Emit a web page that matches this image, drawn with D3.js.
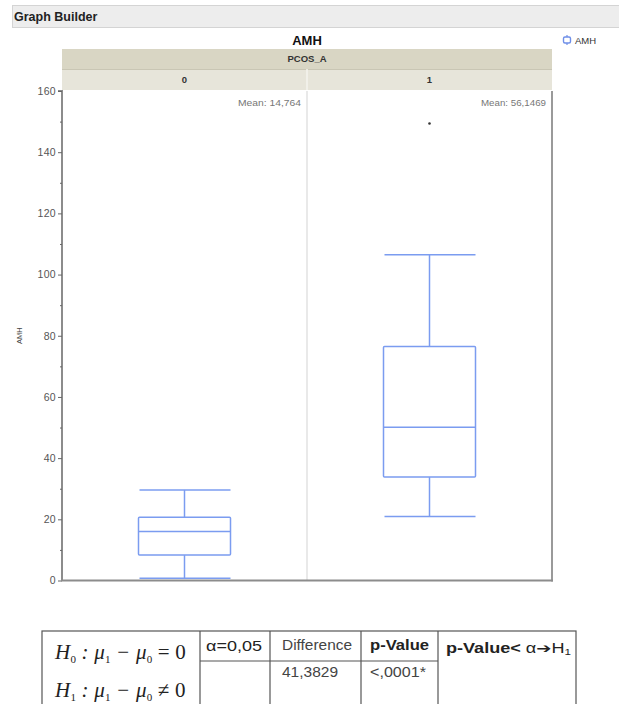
<!DOCTYPE html>
<html><head><meta charset="utf-8">
<script src="https://cdn.jsdelivr.net/npm/d3@7"></script>
<style>body{margin:0;background:#fff;}svg{display:block;font-family:Arial,"Liberation Sans",sans-serif;}</style>
</head><body><div id="chart"></div>
<script>
const groups = ["0", "1"];
const whiskerLow = [0.7, 20.9];
const q1 = [8.3, 33.8];
const median = [16.0, 50.1];
const q3 = [20.7, 76.5];
const whiskerHigh = [29.6, 106.5];
const means = ["14,764", "56,1469"];
const outlierGroups = ["1"];
const outlierValues = [149.4];
const yTicks = [0, 20, 40, 60, 80, 100, 120, 140, 160];
const yMinorTicks = [10, 30, 50, 70, 90, 110, 130, 150];

const W = 619, H = 704;
const svg = d3.select("#chart").append("svg").attr("width", W).attr("height", H);

// Graph Builder header
svg.append("rect").attr("x", 12.5).attr("y", 5.5).attr("width", 620).attr("height", 22)
  .attr("fill", "#ededed").attr("stroke", "#d4d4d4");
svg.append("text").attr("x", 14).attr("y", 21).attr("font-size", 12.5).attr("font-weight", "bold")
  .attr("fill", "#222").text("Graph Builder");

const plot = {left: 62, right: 552, top: 91, bottom: 580.5};
const x = d3.scaleBand().domain(groups).range([plot.left, plot.right]).padding(0);
const y = d3.scaleLinear().domain([0, 160]).range([plot.bottom, plot.top]);

// Title
svg.append("text").attr("x", (plot.left + plot.right) / 2).attr("y", 45).attr("text-anchor", "middle")
  .attr("font-size", 13).attr("font-weight", "bold").attr("fill", "#111").text("AMH");

// Legend
const lg = svg.append("g").attr("transform", "translate(567,40)");
lg.append("line").attr("x1", 0).attr("x2", 0).attr("y1", -5).attr("y2", 5).attr("stroke", "#6f8fe8").attr("stroke-width", 1.2);
lg.append("rect").attr("x", -3.5).attr("y", -3).attr("width", 7).attr("height", 6).attr("rx", 1.5).attr("fill", "#fff").attr("stroke", "#6f8fe8").attr("stroke-width", 1.4);
lg.append("text").attr("x", 8).attr("y", 4).attr("font-size", 9.5).attr("fill", "#333").text("AMH");

// Header bands
svg.append("rect").attr("x", plot.left).attr("y", 49).attr("width", plot.right - plot.left).attr("height", 20)
  .attr("fill", "#d9d6c4");
svg.append("text").attr("x", (plot.left + plot.right) / 2).attr("y", 62).attr("text-anchor", "middle")
  .attr("font-size", 9.5).attr("font-weight", "bold").attr("fill", "#333").text("PCOS_A");
svg.append("rect").attr("x", plot.left).attr("y", 69).attr("width", plot.right - plot.left).attr("height", 21)
  .attr("fill", "#e7e5da");
svg.append("line").attr("x1", plot.left).attr("x2", plot.right).attr("y1", 69.5).attr("y2", 69.5).attr("stroke", "#c9c6b4");
groups.forEach(g => {
  svg.append("text").attr("x", x(g) + x.bandwidth() / 2).attr("y", 83).attr("text-anchor", "middle")
    .attr("font-size", 9.5).attr("font-weight", "bold").attr("fill", "#333").text(g);
});
svg.append("line").attr("x1", x("1")).attr("x2", x("1")).attr("y1", 69).attr("y2", 90).attr("stroke", "#f4f3ee").attr("stroke-width", 1.5);

// Panel divider
svg.append("line").attr("x1", x("1")).attr("x2", x("1")).attr("y1", plot.top).attr("y2", plot.bottom)
  .attr("stroke", "#e2e2e2").attr("stroke-width", 1.5);

// Right border
svg.append("line").attr("x1", plot.right).attr("x2", plot.right).attr("y1", plot.top).attr("y2", plot.bottom + 1)
  .attr("stroke", "#9a9a9a").attr("stroke-width", 2);

// Y axis
const yAxis = svg.append("g").attr("transform", `translate(${plot.left},0)`)
  .call(d3.axisLeft(y).tickValues(yTicks).tickSize(4).tickPadding(2).tickFormat(d3.format("d")));
yAxis.select(".domain").attr("stroke", "#8c8c8c").attr("stroke-width", 2).attr("d", `M-4,${plot.top}H0V${plot.bottom}`);
yAxis.selectAll(".tick line").attr("stroke", "#666");
yAxis.selectAll(".tick text").attr("font-size", 10.5).attr("fill", "#555").attr("font-family", "Arial, 'Liberation Sans', sans-serif")
  .attr("letter-spacing", 0.3);
const yMinor = svg.append("g").attr("transform", `translate(${plot.left},0)`)
  .call(d3.axisLeft(y).tickValues(yMinorTicks).tickSize(2).tickFormat(""));
yMinor.select(".domain").remove();
yMinor.selectAll(".tick line").attr("stroke", "#666");

// X axis line
svg.append("line").attr("x1", plot.left - 1).attr("x2", plot.right + 1).attr("y1", plot.bottom).attr("y2", plot.bottom)
  .attr("stroke", "#8c8c8c").attr("stroke-width", 2);

// Y label
svg.append("text").attr("transform", `translate(22,${(plot.top + plot.bottom) / 2}) rotate(-90)`)
  .attr("text-anchor", "middle").attr("font-size", 7.5).attr("fill", "#444").text("AMH");

// Mean labels
const meanWidths = [63, 65];
groups.forEach((g, i) => {
  svg.append("text").attr("x", x(g) + x.bandwidth() - 6 - meanWidths[i]).attr("y", 106)
    .attr("font-size", 9).attr("fill", "#777")
    .attr("textLength", meanWidths[i]).attr("lengthAdjust", "spacingAndGlyphs")
    .text("Mean: " + means[i]);
});

// Boxes
const boxColor = "#7b9cf0";
const boxHalf = 46;
groups.forEach((g, i) => {
  const cx = x(g) + x.bandwidth() / 2;
  const gg = svg.append("g").attr("stroke", boxColor).attr("stroke-width", 1.5).attr("fill", "none");
  gg.append("line").attr("x1", cx).attr("x2", cx).attr("y1", y(whiskerHigh[i])).attr("y2", y(q3[i]));
  gg.append("line").attr("x1", cx).attr("x2", cx).attr("y1", y(q1[i])).attr("y2", y(whiskerLow[i]));
  gg.append("line").attr("x1", cx - boxHalf + 1).attr("x2", cx + boxHalf).attr("y1", y(whiskerHigh[i])).attr("y2", y(whiskerHigh[i]));
  gg.append("line").attr("x1", cx - boxHalf + 1).attr("x2", cx + boxHalf).attr("y1", y(whiskerLow[i])).attr("y2", y(whiskerLow[i]));
  gg.append("rect").attr("x", cx - boxHalf).attr("y", y(q3[i])).attr("width", boxHalf * 2)
    .attr("height", y(q1[i]) - y(q3[i])).attr("rx", 1);
  gg.append("line").attr("x1", cx - boxHalf).attr("x2", cx + boxHalf).attr("y1", y(median[i])).attr("y2", y(median[i]));
});
outlierGroups.forEach((g, i) => {
  svg.append("circle").attr("cx", x(g) + x.bandwidth() / 2).attr("cy", y(outlierValues[i])).attr("r", 1.3).attr("fill", "#333");
});

// Table
const tb = svg.append("g").attr("stroke", "#555").attr("stroke-width", 1.2).attr("fill", "none");
tb.append("rect").attr("x", 42).attr("y", 631).attr("width", 534).attr("height", 80);
[200, 270, 361, 438].forEach(xx => tb.append("line").attr("x1", xx).attr("x2", xx).attr("y1", 631).attr("y2", 711));
tb.append("line").attr("x1", 200).attr("x2", 438).attr("y1", 661).attr("y2", 661);

const t = svg.append("g").attr("fill", "#222");
function hyp(yy, sub, op) {
  const tx = t.append("text").attr("x", 55).attr("y", yy).attr("font-family", "'Liberation Serif','DejaVu Serif',serif")
    .attr("font-size", 21).attr("font-style", "italic").attr("letter-spacing", 0.2);
  tx.append("tspan").text("H");
  tx.append("tspan").attr("font-size", 11).attr("dy", 4).attr("font-style", "normal").text(sub);
  tx.append("tspan").attr("dy", -4).text(" : μ");
  tx.append("tspan").attr("font-size", 11).attr("dy", 4).attr("font-style", "normal").text("1");
  tx.append("tspan").attr("dy", -4).text(" − μ");
  tx.append("tspan").attr("font-size", 11).attr("dy", 4).attr("font-style", "normal").text("0");
  tx.append("tspan").attr("dy", -4).attr("font-style", "normal").text(" " + op + " 0");
}
hyp(659, "0", "=");
hyp(697, "1", "≠");
function cell(xx, yy, txt, w, opts) {
  const e = t.append("text").attr("x", xx).attr("y", yy).attr("font-size", 14)
    .attr("textLength", w).attr("lengthAdjust", "spacingAndGlyphs").text(txt);
  if (opts && opts.bold) e.attr("font-weight", "bold");
  if (opts && opts.fill) e.attr("fill", opts.fill);
  return e;
}
cell(206, 651, "α=0,05", 56);
cell(282, 650, "Difference", 70, {fill: "#444"});
cell(370, 650, "p-Value", 59, {bold: true});
const pv = t.append("text").attr("x", 446).attr("y", 653).attr("font-size", 14)
  .attr("textLength", 125).attr("lengthAdjust", "spacingAndGlyphs");
pv.append("tspan").attr("font-weight", "bold").text("p-Value< ");
pv.append("tspan").text("α");
pv.append("tspan").attr("font-weight", "bold").attr("font-family", "'DejaVu Sans',sans-serif").text("➔");
pv.append("tspan").text("H");
pv.append("tspan").attr("font-size", 9).attr("dy", 2).text("1");
cell(282, 677, "41,3829", 56, {fill: "#444"});
cell(370, 677, "<,0001*", 56, {fill: "#444"});
</script></body></html>
